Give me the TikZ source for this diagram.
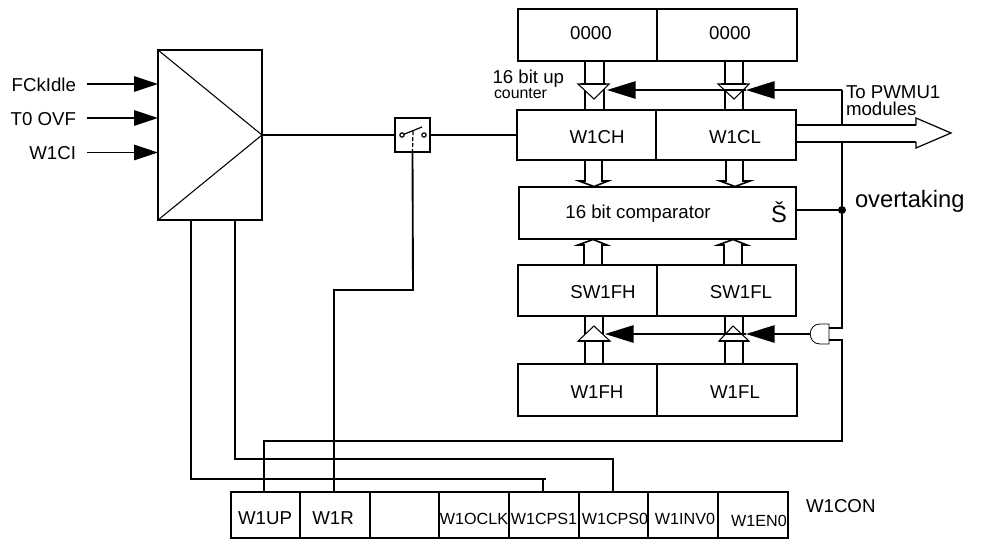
\documentclass[tikz,border=0pt]{standalone}
\usepackage{fontspec}
\setmainfont{Liberation Sans}
\usetikzlibrary{arrows.meta}
\tikzset{
  wire/.style={line width=1.4pt,line cap=butt,line join=miter},
  thinline/.style={line width=0.8pt},
  hollow/.style={line width=1.2pt,line join=miter,fill=white},
  reg/.style={draw,line width=1.4pt,outer sep=0pt,inner sep=0pt},
  txt/.style={inner sep=0pt,outer sep=0pt,anchor=base,font=\fontsize{14}{14}\selectfont},
  ltxt/.style={txt,anchor=base west},
  rtxt/.style={txt,anchor=base east},
  stxt/.style={txt,font=\fontsize{12.1}{12}\selectfont},
  bigtxt/.style={font=\fontsize{17.8}{18}\selectfont},
  inarrow/.style={wire,-{Triangle[length=18pt,width=11.5pt]}},
  bigarrow/.style={wire,-{Triangle[length=21.5pt,width=13pt]}},
  valve/.style={draw,fill=white,line width=0.8pt},
  valvebar/.style={line width=1.4pt},
  contact/.style={circle,draw,fill=white,line width=0.9pt,inner sep=0pt,minimum size=3.2pt,outer sep=0pt},
  junction/.style={circle,fill=black,inner sep=0pt,minimum size=6pt,outer sep=0pt},
}
\newcommand{\regbox}[5]{%
  \pgfmathsetmacro{\rw}{(#4-#2)*0.75}%
  \pgfmathsetmacro{\rh}{(#5-#3)*0.75}%
  \pgfmathsetmacro{\rx}{(#2+#4)/2}%
  \pgfmathsetmacro{\ry}{(#3+#5)/2}%
  \node[reg,minimum width=\rw pt,minimum height=\rh pt] (#1) at (\rx,\ry) {};%
}
\begin{document}
\begin{tikzpicture}[x=0.75pt,y=-0.75pt]
\useasboundingbox (0,0) rectangle (982,540);
% registers
\regbox{toph}{518}{9}{657}{61}
\regbox{topl}{657}{9}{797}{61}
\regbox{wch}{517}{110}{656}{160}
\regbox{wcl}{656}{110}{796}{160}
\regbox{cmp}{519}{187}{796}{239}
\regbox{sfh}{518}{265}{657}{316}
\regbox{sfl}{657}{265}{796}{316}
\regbox{wfh}{518}{364}{657}{416}
\regbox{wfl}{657}{364}{797}{416}
\regbox{mux}{158}{50}{262}{220}
\regbox{sw}{395}{118}{430}{152}
\regbox{bup}{231}{492}{300}{538}
\regbox{br}{300}{492}{370}{538}
\regbox{bx}{370}{492}{439}{538}
\regbox{bo}{439}{492}{509}{538}
\regbox{bp}{509}{492}{579}{538}
\regbox{bq}{579}{492}{648}{538}
\regbox{bi}{648}{492}{718}{538}
\regbox{be}{718}{492}{788}{538}
% named routing coordinates
\coordinate (i1) at (87,84);
\coordinate (i2) at (87,118);
\coordinate (i3) at (87,152.5);
\coordinate (s1) at (191,479);
\coordinate (s1e) at (543,479);
\coordinate (s2) at (235,459);
\coordinate (s2e) at (613,459);
\coordinate (upc) at (264,441);
\coordinate (rail) at (842,441);
\coordinate (rjoin) at (413,290);
\coordinate (rx) at (334,290);
\coordinate (tap) at (842,90);
\coordinate (dot) at (842,210);
\coordinate (andA) at (829,328);
\coordinate (andB) at (829,340);
\coordinate (andO) at (810,334);
\coordinate (v1t) at (607,90);
\coordinate (v2t) at (746,90);
\coordinate (v3t) at (605,334);
\coordinate (v4t) at (746,334);
\coordinate (oa) at (916,125);
\coordinate (ob) at (916,142);
% input arrows
\draw[inarrow] (i1) -- (i1 -| mux.west);
\draw[inarrow] (i2) -- (i2 -| mux.west);
\draw[inarrow] (i3) -- (i3 -| mux.west);
% mux triangle
\draw[thinline] (mux.north west) -- (mux.east) -- (mux.south west);
% main clock wire
\draw[wire] (mux.east) -- (sw.west);
\draw[wire] (sw.east) -- (wch.west);
% switch
\node[contact] (c1) at (402,135) {};
\node[contact] (c2) at (424,135) {};
\draw[line width=0.9pt] (c1) -- (422,127);
\draw[line width=0.9pt,dash pattern=on 3pt off 1.5pt] (413,131) -- (sw.south);
% control wires
\draw[wire] (sw.south) -- (rjoin) -- (rx) -- (rx |- br.north);
\draw[wire] (s1 |- mux.south) -- (s1) -- (s1e) -- (s1e |- bp.north);
\draw[wire] (s1e) -- ++(3,0);
\draw[wire] (s2 |- mux.south) -- (s2) -- (s2e) -- (s2e |- bq.north);
\draw[wire] (upc |- bup.north) -- (upc) -- (rail) -- (rail |- andB) -- (andB);
% buses top to W1C
\foreach \a in {585,604,725,743}{\draw[wire] (\a,0 |- toph.south) -- (\a,0 |- wch.north);}
% valves upper
\draw[valve] (578,84) -- (609,84) -- (594,99) -- cycle;
\draw[valve] (718,84) -- (749,84) -- (734,99) -- cycle;
\draw[valvebar] (581,84) -- (606,84);
\draw[valvebar] (721,84) -- (746,84);
% hollow arrows W1C to comparator
\draw[hollow] (585,161) -- (585,181) -- (579,181) -- (594,186.5) -- (608,181) -- (602,181) -- (602,161);
\draw[hollow] (726,161) -- (726,181) -- (720,181) -- (735,186.5) -- (750,181) -- (743,181) -- (743,161);
% hollow arrows SW1F to comparator
\draw[hollow] (584,264) -- (584,245) -- (578,245) -- (593,239.5) -- (607,245) -- (602,245) -- (602,264);
\draw[hollow] (724,264) -- (724,245) -- (718,245) -- (733,239.5) -- (747,245) -- (742,245) -- (742,264);
% buses W1F to SW1F
\foreach \a in {585,603,725,743}{\draw[wire] (\a,0 |- wfh.north) -- (\a,0 |- sfh.south);}
% valves lower
\draw[valve] (578,341) -- (610,341) -- (594,326) -- cycle;
\draw[valve] (719,341) -- (749,341) -- (733,326) -- cycle;
\draw[valvebar] (578,341) -- (610,341);
\draw[valvebar] (719,341) -- (749,341);
% black arrows upper
\draw[bigarrow] (tap) -- (v2t);
\draw[bigarrow] (v2t) -- (v1t);
\draw[wire] (tap |- oa) -- (tap);
% black arrows lower
\draw[bigarrow] (andO) -- (v4t);
\draw[bigarrow] (v4t) -- (v3t);
% output bus
\draw[wire] (wcl.east |- oa) -- (oa);
\draw[wire] (wcl.east |- ob) -- (ob);
\draw[line width=0.9pt,line join=miter] (oa) -- (916,118) -- (951,133) -- (916,148) -- (ob);
% overtaking
\node[junction] (dotn) at (dot) {};
\draw[wire] (cmp.east |- dot) -- (dotn);
\draw[wire] (tap |- ob) -- (dotn);
\draw[wire] (dotn) -- (tap |- andA) -- (andA);
% AND gate
\draw[line width=0.6pt] (829,324) -- (820,324) .. controls (807,324) and (807,344) .. (820,344) -- (829,344) -- cycle;
% labels
\node[txt] (tF) at (591,39) {0000};
\node[txt] (tG) at (730,39) {0000};
\node[ltxt] (t16) at (492.5,83) {16 bit up};
\node[ltxt,font=\fontsize{11.9}{12}\selectfont] (tcnt) at (494,98) {counter};
\node[txt] (tch) at (597,143) {W1CH};
\node[txt] (tcl) at (735,143) {W1CL};
\node[txt] (tcmp) at (638,218) {16 bit comparator};
\node[txt,bigtxt] (tS) at (779,222) {Š};
\node[txt] (tsh) at (603,298) {SW1FH};
\node[txt] (tsl) at (741,298) {SW1FL};
\node[txt] (tfh) at (597,398) {W1FH};
\node[txt] (tfl) at (735,398) {W1FL};
\node[ltxt] (tpw) at (846,98) {To PWMU1};
\node[ltxt] (tmo) at (846,115) {modules};
\node[ltxt,bigtxt] (tov) at (855,207) {overtaking};
\node[rtxt] (tf1) at (76,91) {FCkIdle};
\node[rtxt] (tf2) at (76,125) {T0 OVF};
\node[rtxt] (tf3) at (76,159) {W1CI};
\node[txt] (tup) at (265,524) {W1UP};
\node[txt] (tr) at (333,524) {W1R};
\node[stxt] (to) at (474,524) {W1OCLK};
\node[stxt] (tp) at (544,524) {W1CPS1};
\node[stxt] (tq) at (615,524) {W1CPS0};
\node[stxt] (ti) at (685,524) {W1INV0};
\node[stxt] (te) at (759,526) {W1EN0};
\node[ltxt] (tcon) at (806,512) {W1CON};
\end{tikzpicture}
\end{document}
